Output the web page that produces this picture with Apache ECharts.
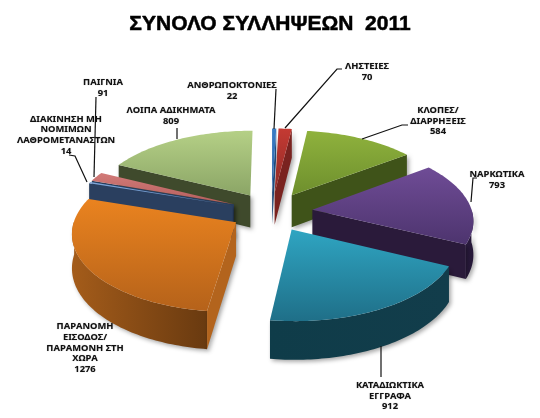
<!DOCTYPE html>
<html><head><meta charset="utf-8">
<style>html,body{margin:0;padding:0;background:#fff}#c{width:540px;height:418px}</style>
<script src="https://cdn.jsdelivr.net/npm/echarts@6/dist/echarts.min.js"></script>
</head><body><div id="c"></div>
<script>
// ---- data ----
const categories = ['ΑΝΘΡΩΠΟΚΤΟΝΙΕΣ','ΛΗΣΤΕΙΕΣ','ΚΛΟΠΕΣ/\nΔΙΑΡΡΗΞΕΙΣ','ΝΑΡΚΩΤΙΚΑ','ΚΑΤΑΔΙΩΚΤΙΚΑ\nΕΓΓΡΑΦΑ','ΠΑΡΑΝΟΜΗ\nΕΙΣΟΔΟΣ/\nΠΑΡΑΜΟΝΗ ΣΤΗ\nΧΩΡΑ','ΔΙΑΚΙΝΗΣΗ ΜΗ\nΝΟΜΙΜΩΝ\nΛΑΘΡΟΜΕΤΑΝΑΣΤΩΝ','ΠΑΙΓΝΙΑ','ΛΟΙΠΑ ΑΔΙΚΗΜΑΤΑ'];
const values = [22,70,584,793,912,1276,14,91,809];
// ---- styles ----
const topColors = [['#3a7cc4','#2a62a5'],['#c43a33','#8f2a26'],['#8fb23d','#6e8f2d'],['#6f4c96','#4d346e'],['#2fa5c2','#1f6f88'],['#ea831f','#b5621a'],['#7fa8dc','#5f86b8'],['#d27a78','#b55f5d'],['#b5d086','#8ba566']];
const sideColors = [['#1f4a7a','#2a5c94'],['#7a2320','#8f2c28'],['#3d5018','#465c1c'],['#2c1c40','#251737'],['#0f3c49','#123d4b'],['#a45c1a','#693a10'],['#2c4260','#27395a'],['#6e2a2a','#5a2222'],['#465232','#3a4429']];
const cutColors = ['#1f4a7a','#7a2320','#3f5319','#2a1a3a','#103e4c','#b3641d','#2a3f5f','#2a3f5f','#3f4a2c'];
const drawOrder = [0,1,8,2,7,6,3,5,4];
// label centres and leader lines of the picture, by category
const labelBoxes = [[232,91],[367,72],[438,121],[497,180],[390,396],[85,348],[66,135],[103,88],[171,116]];
const leaders = [
  [[276,89],[274,129]], [[342,69],[337,69],[285,128]], [[408,125],[402,125],[362,139]],
  [[477,178],[473,178],[471,202]], [[381,377],[381,346]], [],
  [[69,155],[75,156],[87,182]], [[96,97],[94,177]], [[177,128],[177,139]]
];
const titleText = 'ΣΥΝΟΛΟ ΣΥΛΛΗΨΕΩΝ  2011';
// ---- geometry of the 3D view ----
const CX=271.5, CY=211.7, R=155, EXPLODE=40, TILT=0.491, PERSP=1297, XS=1.03, DEPTH=33;
const total = values.reduce((a,b)=>a+b,0);
function project(X,Y){const s=PERSP/(PERSP-Y);return [CX+XS*X*s, CY+TILT*Y*s, s];}
function planePoint(a,r,ox,oy){return project(ox+r*Math.sin(a), oy-r*Math.cos(a));}
function down(p){return [p[0],p[1]+DEPTH*p[2]];}
function xy(p){return [p[0],p[1]];}
function hgrad(c){return {type:'linear',x:0,y:0,x2:1,y2:0,colorStops:[{offset:0,color:c[0]},{offset:1,color:c[1]}]};}
function vgrad(c){return {type:'linear',x:0,y:0,x2:0,y2:1,colorStops:[{offset:0,color:c[0]},{offset:1,color:c[1]}]};}
const shadow={shadowBlur:4,shadowOffsetX:2,shadowOffsetY:2,shadowColor:'rgba(0,0,0,0.35)'};

function renderItem(params,api){
  const i=params.dataIndex;
  let before=0;for(let k=0;k<i;k++)before+=values[k];
  const v=api.value(0);
  const a0=before/total*2*Math.PI, a1=(before+v)/total*2*Math.PI, mid=(a0+a1)/2;
  const ox=EXPLODE*Math.sin(mid), oy=-EXPLODE*Math.cos(mid);
  const apex=project(ox,oy), rim=[], front=[];
  const n=Math.max(4,Math.ceil((a1-a0)/0.02));
  for(let k=0;k<=n;k++){
    const a=a0+(a1-a0)*k/n, p=planePoint(a,R,ox,oy);
    rim.push(p);
    if(Math.cos(a)<0.02)front.push(p);
  }
  const z=(drawOrder.indexOf(i)+1)*10;
  const poly=(pts,style,dz)=>({type:'polygon',z2:z+dz,shape:{points:pts.map(xy)},style,silent:true});
  const children=[];
  if(front.length>1)children.push(poly(front.concat(front.map(down).reverse()),Object.assign({fill:hgrad(sideColors[i])},shadow),0));
  const first=rim[0], last=rim[rim.length-1];
  if(Math.sin(a0)<-0.001)children.push(poly([apex,first,down(first),down(apex)],Object.assign({fill:cutColors[i]},shadow),1));
  if(Math.sin(a1)>0.001)children.push(poly([apex,last,down(last),down(apex)],Object.assign({fill:cutColors[i]},shadow),1));
  children.push(poly([apex].concat(rim),{fill:vgrad(topColors[i])},2));
  if(leaders[i].length)children.push({type:'polyline',z2:900,shape:{points:leaders[i]},style:{fill:'none',stroke:'#111',lineWidth:1.2},silent:true});
  children.push({type:'text',z2:901,silent:true,style:{text:categories[i]+'\n'+v,x:labelBoxes[i][0],y:labelBoxes[i][1],align:'center',verticalAlign:'middle',lineHeight:10.6,fill:'#111',font:'bold 9.4px "Noto Sans", Arial, sans-serif',textShadowBlur:1,textShadowColor:'rgba(0,0,0,0.35)'}});
  return {type:'group',children};
}
const chart=echarts.init(document.getElementById('c'),null,{renderer:'canvas'});
chart.setOption({
  animation:false,backgroundColor:'#fff',
  title:{text:titleText,left:'center',top:9,textStyle:{fontFamily:'"Liberation Sans"',fontWeight:'bold',fontSize:21,color:'#000',textBorderColor:'#000',textBorderWidth:0.5}},
  series:[{type:'custom',coordinateSystem:'none',renderItem,data:values.map((v,i)=>({name:categories[i],value:[v]}))}]
});
</script></body></html>
